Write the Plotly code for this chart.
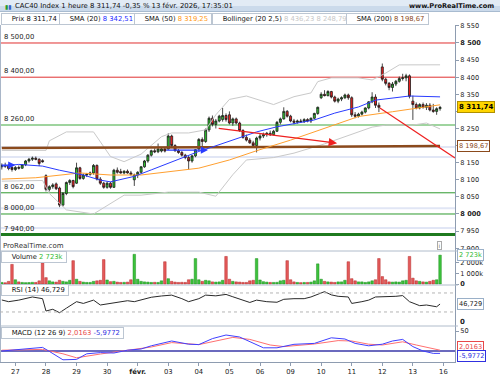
import plotly.graph_objects as go

W, H = 500, 375
FONT = "DejaVu Sans"

# ---------------- data ----------------
day_tick_idx = [4, 13, 22, 31, 40, 49, 58, 67, 76, 85, 94, 103, 112, 121, 130]
day_tick_text = ['27', '28', '29', '30', '<b>févr.</b>', '03', '04', '05', '06', '09', '10', '11', '12', '13', '16']

price_tick_vals = [7900, 7950, 8000, 8050, 8100, 8150, 8200, 8250, 8300, 8350, 8400, 8450, 8500, 8550]
price_tick_text = ['7 900', '7 950', '<b>8 000</b>', '8 050', '8 100', '8 150', '', '8 250', '', '8 350', '8 400', '8 450', '<b>8 500</b>', '8 550']

opens = [8138, 8142, 8140, 8136,
         8130, 8136, 8134, 8144, 8155, 8160, 8163, 8160, 8156,
         8112, 8072, 8080, 8088, 8076, 8026, 8060, 8092, 8098,
         8090, 8135, 8104, 8114, 8116, 8120, 8142, 8102, 8090,
         8078, 8090, 8078, 8128, 8124, 8120, 8125, 8120, 8100,
         8114, 8122, 8138, 8155, 8172, 8185, 8182, 8184, 8190,
         8190, 8228, 8200, 8185, 8180, 8172, 8165, 8155, 8170,
         8190, 8218, 8212, 8246, 8280, 8262, 8272, 8276, 8288,
         8290, 8266, 8278, 8266, 8244, 8224, 8216, 8208, 8200,
         8222, 8228, 8232, 8236, 8232, 8242, 8268, 8278, 8300,
         8286, 8272, 8268, 8272, 8270, 8276, 8272, 8280, 8294,
         8340, 8350, 8346, 8358, 8342, 8330, 8336, 8340, 8348,
         8340, 8290, 8286, 8292, 8298, 8310, 8328, 8342, 8318,
         8430, 8394, 8382, 8370, 8380, 8388, 8396, 8398, 8404,
         8330, 8320, 8310, 8320, 8312, 8318, 8304, 8300, 8308]
highs = [8148, 8150, 8146, 8142,
         8140, 8142, 8146, 8158, 8164, 8168, 8168, 8163, 8160,
         8116, 8084, 8090, 8092, 8080, 8064, 8095, 8102, 8100,
         8150, 8138, 8118, 8120, 8124, 8146, 8145, 8108, 8094,
         8095, 8094, 8132, 8136, 8132, 8128, 8130, 8126, 8118,
         8125, 8140, 8158, 8175, 8188, 8192, 8206, 8195, 8194,
         8236, 8232, 8204, 8190, 8184, 8176, 8170, 8172, 8190,
         8222, 8224, 8250, 8285, 8288, 8278, 8290, 8310, 8294,
         8300, 8282, 8282, 8270, 8248, 8232, 8222, 8214, 8226,
         8234, 8238, 8240, 8244, 8246, 8272, 8282, 8312, 8304,
         8290, 8278, 8276, 8278, 8280, 8280, 8282, 8296, 8314,
         8356, 8362, 8362, 8360, 8346, 8340, 8344, 8352, 8352,
         8344, 8298, 8296, 8302, 8312, 8330, 8356, 8350, 8326,
         8440, 8398, 8386, 8386, 8392, 8402, 8410, 8410, 8408,
         8346, 8326, 8324, 8326, 8324, 8324, 8322, 8312, 8316]
lows = [8130, 8135, 8128, 8124,
        8126, 8130, 8132, 8140, 8150, 8155, 8157, 8140, 8150,
        8066, 8066, 8074, 8070, 8020, 8022, 8055, 8085, 8075,
        8088, 8100, 8100, 8108, 8112, 8115, 8098, 8085, 8074,
        8074, 8074, 8076, 8118, 8118, 8116, 8118, 8112, 8082,
        8105, 8118, 8135, 8150, 8168, 8178, 8178, 8180, 8180,
        8188, 8196, 8182, 8176, 8168, 8160, 8130, 8150, 8166,
        8185, 8196, 8208, 8240, 8256, 8250, 8268, 8270, 8270,
        8262, 8258, 8262, 8240, 8220, 8212, 8205, 8196, 8180,
        8215, 8222, 8226, 8228, 8230, 8240, 8262, 8276, 8282,
        8268, 8262, 8264, 8266, 8266, 8268, 8266, 8276, 8290,
        8336, 8344, 8344, 8338, 8326, 8324, 8330, 8336, 8334,
        8284, 8280, 8282, 8288, 8294, 8306, 8324, 8310, 8298,
        8388, 8376, 8362, 8358, 8374, 8384, 8390, 8388, 8338,
        8275, 8306, 8306, 8308, 8304, 8300, 8296, 8290, 8302]
closes = [8142, 8140, 8133, 8130,
          8136, 8134, 8144, 8155, 8160, 8163, 8160, 8148, 8153,
          8072, 8080, 8085, 8074, 8026, 8060, 8092, 8098, 8080,
          8135, 8104, 8114, 8116, 8120, 8142, 8102, 8090, 8078,
          8090, 8078, 8128, 8122, 8120, 8125, 8120, 8116, 8114,
          8122, 8138, 8155, 8172, 8185, 8182, 8190, 8190, 8184,
          8228, 8200, 8185, 8180, 8172, 8165, 8155, 8170, 8188,
          8218, 8212, 8246, 8280, 8262, 8272, 8286, 8288, 8276,
          8266, 8278, 8266, 8244, 8224, 8216, 8208, 8200, 8222,
          8228, 8232, 8236, 8232, 8242, 8268, 8278, 8300, 8286,
          8272, 8268, 8272, 8270, 8276, 8272, 8280, 8294, 8312,
          8350, 8346, 8358, 8342, 8330, 8336, 8340, 8348, 8340,
          8290, 8286, 8292, 8298, 8310, 8328, 8342, 8318, 8312,
          8394, 8382, 8370, 8380, 8388, 8396, 8398, 8404, 8344,
          8320, 8310, 8320, 8312, 8318, 8304, 8300, 8308, 8311.74]

volume_k = [150, 120, 250, 1850,
            400, 200, 150, 130, 140, 160, 150, 300, 2000,
            600, 300, 200, 180, 350, 250, 200, 350, 2200,
            450, 250, 180, 150, 150, 250, 300, 350, 2300,
            380, 220, 250, 180, 150, 160, 180, 400, 2800,
            450, 250, 200, 180, 150, 160, 150, 300, 2100,
            500, 250, 180, 150, 160, 150, 400, 450, 2400,
            400, 250, 350, 300, 200, 180, 200, 350, 2600,
            450, 250, 200, 180, 150, 150, 300, 350, 2400,
            380, 220, 180, 150, 150, 160, 300, 350, 2200,
            400, 200, 150, 130, 150, 150, 180, 300, 1900,
            450, 250, 200, 180, 150, 200, 200, 350, 2100,
            500, 300, 200, 200, 150, 200, 300, 400, 2400,
            700, 400, 200, 180, 200, 180, 300, 350, 2600,
            550, 300, 250, 200, 180, 250, 350, 400, 2723]

sma20_x = [0, 5, 12, 17, 24, 29, 32, 39, 44, 49, 53, 58, 62, 68, 75, 81, 92, 98, 105, 110, 120, 129]
sma20_v = [8140, 8145, 8140, 8128, 8114, 8099, 8094, 8110, 8129, 8149, 8164, 8183, 8196, 8216, 8240, 8255, 8275, 8295, 8313, 8333, 8345, 8342.51]

sma50_x = [0, 10, 23, 32, 41, 49, 58, 67, 75, 85, 95, 105, 115, 125, 129]
sma50_v = [8102, 8106, 8120, 8114, 8114, 8124, 8134, 8158, 8185, 8216, 8250, 8285, 8299, 8312, 8319.25]

sma200_x = [0, 20, 40, 60, 80, 100, 115, 129]
sma200_v = [8193, 8193, 8194, 8195, 8196, 8197, 8197, 8198.67]

boll_up_x = [0, 13, 14, 19, 27, 32, 36, 41, 47, 50, 55, 60, 63, 67, 72, 80, 86, 91, 93, 97, 105, 109, 113, 117, 129]
boll_up_v = [8186, 8186, 8214, 8240, 8240, 8168, 8153, 8175, 8226, 8237, 8237, 8246, 8290, 8335, 8345, 8320, 8343, 8354, 8387, 8398, 8398, 8392, 8412, 8436, 8436.23]
boll_lo_x = [0, 12, 14, 19, 27, 32, 36, 41, 49, 58, 63, 68, 72, 80, 86, 95, 105, 109, 113, 121, 125, 129]
boll_lo_v = [8096, 8098, 8060, 8012, 8000, 8030, 8055, 8055, 8064, 8064, 8052, 8115, 8158, 8165, 8178, 8205, 8240, 8254, 8260, 8260, 8266, 8248.79]

rsi_x = [0, 2, 5, 9, 12, 13, 15, 17, 19, 22, 24, 27, 29, 32, 34, 37, 39, 41, 44, 47, 50, 53, 55, 58, 60, 63, 66, 68, 71, 73,
         75, 78, 81, 83, 86, 89, 91, 93, 95, 97, 99, 102, 103, 106, 108, 110, 113, 116, 118, 120, 123, 125, 128, 129]
rsi_v = [55.3, 51.7, 55, 61.6, 58, 32, 35.7, 28.5, 38, 51.7, 48, 55, 44.7, 48, 51.7, 53.7, 51.7, 55, 61, 63.7, 65.5, 58, 51.7, 58, 65.5, 64, 67, 62, 55, 50,
         55, 51.7, 50.5, 56.7, 58, 58, 61.6, 68, 72.8, 66, 63, 61.6, 48, 51.7, 55, 61.6, 61.6, 63, 64.5, 51.7, 43.3, 44.7, 41, 46.729]

macd_x = [0, 5, 12, 14, 18, 22, 25, 29, 33, 37, 41, 44, 50, 55, 58, 62, 66, 70, 73, 77, 81, 86, 92, 97, 101, 104, 108, 112, 115, 118, 121, 124, 127, 129]
macd_v = [0, 4, 9, -1, -22, -21, -7, -4, -5, 2, 5, 13, 25, 17, 16, 31, 40, 35, 23, 8, 8, 16.7, 19, 33, 30, 19, 13, 17, 25, 29, 11, 0, -6, -5.9772]
signal_x = [0, 12, 18, 22, 29, 37, 44, 50, 58, 68, 73, 79, 83, 92, 99, 103, 108, 112, 118, 122, 129]
signal_v = [2, 4, -7, -17, -7.5, 2, 10, 21, 16, 34, 29, 15, 11, 17.5, 26, 25, 17, 15, 23, 15, 2.0163]

levels = [8500, 8400, 8260, 8062, 8000, 7940]
level_text = ['8 500,00', '8 400,00', '8 260,00', '8 062,00', '8 000,00', '7 940,00']
level_color = ['#e03030', '#e03030', '#9fd49f', '#2e9a2e', '#2e9a2e', '#1f7a1f']
level_width = [1, 1, 2, 1, 1, 3]
soft_lines = [8196, 8167, 8017, 7959]

# drawings (candle index, price)
red_arrow = dict(x0=63.4, y0=8251, x1=98.7, y1=8207)
red_line = dict(x0=111.3, y0=8310, x1=133.4, y1=8164)
blue_arrows = [dict(x0=-0.5, y0=8143, x1=4.0, y1=8143), dict(x0=48.0, y0=8187, x1=60.7, y1=8187)]

last_price = closes[-1]
vol_last = volume_k[-1] * 1000

# ---------------- figure ----------------
def py(p):
    return 1 - p / H

XR = 455 / W
idx = list(range(len(opens)))
inc = [c >= o for o, c in zip(opens, closes)]

fig = go.Figure()

# Bollinger
fig.add_trace(go.Scatter(x=boll_up_x, y=boll_up_v, mode='lines', line=dict(color='#c9c9c9', width=1), yaxis='y'))
fig.add_trace(go.Scatter(x=boll_lo_x, y=boll_lo_v, mode='lines', line=dict(color='#c9c9c9', width=1), yaxis='y'))
# SMAs
fig.add_trace(go.Scatter(x=sma200_x, y=sma200_v, mode='lines', line=dict(color='#8b4a1c', width=2.5), yaxis='y'))
fig.add_trace(go.Scatter(x=sma50_x, y=sma50_v, mode='lines', line=dict(color='#ffa030', width=1), yaxis='y'))
fig.add_trace(go.Scatter(x=sma20_x, y=sma20_v, mode='lines', line=dict(color='#2a3cff', width=1), yaxis='y'))

fig.add_trace(go.Candlestick(
    x=idx, open=opens, high=highs, low=lows, close=closes, yaxis='y',
    increasing=dict(fillcolor='#2ec52e', line=dict(color='#1a1a1a', width=0.8)),
    decreasing=dict(fillcolor='#ee2020', line=dict(color='#1a1a1a', width=0.8)),
    whiskerwidth=0, hoverinfo='skip'))

# Volume
vcol = ['#3cc23c' if g else '#e45a5a' for g in inc]
vline = ['#1f8f1f' if g else '#b52a2a' for g in inc]
fig.add_trace(go.Bar(x=idx, y=[v * 1000 for v in volume_k], marker=dict(color=vcol, line=dict(color=vline, width=0.5)), yaxis='y2'))

# RSI
fig.add_trace(go.Scatter(x=rsi_x, y=rsi_v, mode='lines', line=dict(color='#2a2a2a', width=1), yaxis='y3'))

# MACD
fig.add_trace(go.Scatter(x=signal_x, y=signal_v, mode='lines', line=dict(color='#ff7070', width=1), yaxis='y4'))
fig.add_trace(go.Scatter(x=macd_x, y=macd_v, mode='lines', line=dict(color='#4040ff', width=1), yaxis='y4'))

axis_line = '#8e9cb0'
tickfont = dict(family=FONT, size=6.6, color='#222')

fig.update_layout(
    width=W, height=H, margin=dict(l=0, r=0, t=0, b=0, autoexpand=False),
    paper_bgcolor='white', plot_bgcolor='white', showlegend=False,
    bargap=0.25, boxgap=0.15,
    font=dict(family=FONT, size=7, color='#222'),
    xaxis=dict(domain=[0, XR], anchor='y4', range=[-0.53, 133.4], rangeslider=dict(visible=False),
               tickvals=day_tick_idx, ticktext=day_tick_text, ticks='outside', ticklen=3, tickcolor=axis_line,
               showgrid=False, zeroline=False, showline=True, linecolor=axis_line, linewidth=1,
               automargin=False, tickfont=dict(family=FONT, size=6.8, color='#222')),
    yaxis=dict(domain=[py(251), py(25)], anchor='x', side='right', range=[7891.8, 8552.6], automargin=False,
               tickvals=price_tick_vals, ticktext=price_tick_text,
               ticks='outside', ticklen=3, tickcolor=axis_line, tickfont=tickfont,
               showgrid=False, zeroline=False, showline=True, linecolor=axis_line),
    yaxis2=dict(domain=[py(285), py(251)], anchor='x', side='right', range=[-94000, 3113000], automargin=False,
                tickvals=[0, 1000000, 2000000], ticktext=['<b>0</b>', '1 000k', '2 000k'],
                ticks='outside', ticklen=3, tickcolor=axis_line, tickfont=tickfont,
                showgrid=False, zeroline=False, showline=True, linecolor=axis_line),
    yaxis3=dict(domain=[py(326), py(285)], anchor='x', side='right', range=[0.5, 86.8], automargin=False,
                showticklabels=False, ticks='', showgrid=False, zeroline=False, showline=True, linecolor=axis_line),
    yaxis4=dict(domain=[py(362), py(326)], anchor='x', side='right', range=[-27.5, 62.5], automargin=False,
                tickvals=[50], ticktext=['50'], ticks='outside', ticklen=3, tickcolor=axis_line, tickfont=tickfont,
                showgrid=False, zeroline=False, showline=True, linecolor=axis_line),
)

shapes = []
# title bar (two-tone to suggest the gradient)
shapes.append(dict(type='rect', xref='paper', yref='paper', x0=0, x1=1, y0=py(6), y1=1, fillcolor='#e2ebf5', line=dict(width=0), layer='below'))
shapes.append(dict(type='rect', xref='paper', yref='paper', x0=0, x1=1, y0=py(11.5), y1=py(6), fillcolor='#cbdaeb', line=dict(width=0), layer='below'))
shapes.append(dict(type='line', xref='paper', yref='paper', x0=0, x1=1, y0=py(11.5), y1=py(11.5), line=dict(color='#a8bbd0', width=1)))
# left border
shapes.append(dict(type='line', xref='paper', yref='paper', x0=0.5 / W, x1=0.5 / W, y0=py(362), y1=py(25), line=dict(color='#a9b6c8', width=1)))
# pane dividers
for yy in [251, 285, 326]:
    shapes.append(dict(type='line', xref='paper', yref='paper', x0=0, x1=458 / W, y0=py(yy), y1=py(yy), line=dict(color='#b0bccb', width=1)))
# soft guide lines
for v in soft_lines:
    shapes.append(dict(type='line', xref='x domain', yref='y', x0=0, x1=1, y0=v, y1=v, line=dict(color='#e1e6f5', width=2), layer='below'))
# horizontal levels
for v, c, w in zip(levels, level_color, level_width):
    shapes.append(dict(type='line', xref='x domain', yref='y', x0=0, x1=1, y0=v, y1=v, line=dict(color=c, width=w), layer='below'))
# RSI 70/30
for v in [70, 30]:
    shapes.append(dict(type='line', xref='x domain', yref='y3', x0=0, x1=1, y0=v, y1=v, line=dict(color='#b4b4b4', width=1, dash='dot')))
# MACD zero
shapes.append(dict(type='line', xref='x domain', yref='y4', x0=0, x1=1, y0=0, y1=0, line=dict(color='#3a38a8', width=1.5), layer='below'))
# red diagonal drawing
shapes.append(dict(type='line', xref='x', yref='y', x0=red_line['x0'], y0=red_line['y0'], x1=red_line['x1'], y1=red_line['y1'], line=dict(color='#ee2020', width=1.2)))
# legend icons
def icon(x0, x1, y0, y1, color):
    shapes.append(dict(type='rect', xref='paper', yref='paper', x0=x0 / W, x1=x1 / W, y0=py(y1), y1=py(y0), fillcolor=color, line=dict(width=0)))

ann = []
def text(t, x, y, size=6.8, color='#222', xanchor='left', yref='paper', yshift=0, bg=None, border=None, pad=1):
    d = dict(x=x / W, y=(py(y) if yref == 'paper' else y), xref='paper', yref=yref, text=t, showarrow=False,
             xanchor=xanchor, yanchor='middle', yshift=yshift, font=dict(family=FONT, size=size, color=color))
    if bg:
        d['bgcolor'] = bg
    if border:
        d['bordercolor'] = border
        d['borderwidth'] = 1
        d['borderpad'] = pad
    ann.append(d)

# header
text('CAC40 Index 1 heure 8 311,74 -0,35 % 13 févr. 2026, 17:35:01', 13, 6, size=6.9, color='#111')
text('<b>www.ProRealTime.com</b>', 496, 6, size=6.6, color='#111', xanchor='right')
ann.append(dict(x=3 / W, y=py(6), xref='paper', yref='paper', text='<span style="color:#2a9a2a">▮</span><span style="color:#3a60c8">▮</span>',
                showarrow=False, xanchor='left', yanchor='middle', font=dict(family=FONT, size=6)))

# legend row
legend_items = [
    (1, 'Prix 8 311,74', None),
    (59, 'SMA (20) <span style="color:#1e2cff">8 342,51</span>', '#1e2cff'),
    (134, 'SMA (50) <span style="color:#ff9a20">8 319,25</span>', '#ff9a20'),
    (212, 'Bollinger (20 2,5) <span style="color:#c8c8c8">8 436,23 8 248,79</span>', '#cfcfcf'),
    (346, 'SMA (200) <span style="color:#8b4a1c">8 198,67</span>', '#8b4a1c'),
]
for x, t, c in legend_items:
    text('    ' + t + ' ', x, 18.5, size=6.8, color='#111', bg='white', border='#bcc6d2', pad=1)
    if c is None:
        icon(x + 2, x + 5, 15, 22, '#d62020')
        icon(x + 5, x + 8, 15, 22, '#22a022')
    else:
        icon(x + 2, x + 8.5, 15, 22, c)

# level labels
for v, t in zip(levels, level_text):
    ann.append(dict(x=2 / W, y=v, xref='paper', yref='y', text=t, showarrow=False, xanchor='left', yanchor='bottom',
                    yshift=0, font=dict(family=FONT, size=6.8, color='#222')))

# watermark & info icon
text('ProRealTime.com', 1, 246, size=7, color='#333')
text('i', 439, 245, size=5.5, color='#666', xanchor='center', border='#aaaaaa', pad=0.5, bg='white')

# pane legends
text('    Volume <span style="color:#33bb33">2 723k</span> ', 1, 257, size=6.8, color='#111', bg='white', border='#bcc6d2')
icon(3, 5.5, 253.5, 260.5, '#33bb33')
icon(5.5, 8, 253.5, 260.5, '#e05050')
text('    RSI (14) 46,729 ', 1, 290, size=6.8, color='#111', bg='white', border='#bcc6d2')
icon(3, 9, 287, 293.5, '#111111')
text('    MACD (12 26 9) <span style="color:#e84848">2,0163</span> <span style="color:#3030e0">-5,9772</span> ', 1, 332.5, size=6.8, color='#111', bg='white', border='#bcc6d2')
icon(3, 5.5, 329, 336, '#e04040')
icon(5.5, 8, 329, 336, '#3030e0')

# right value boxes
text('<b>8 311,74</b>', 457, last_price, yref='y', size=7.0, color='#000', bg='#ffd500', border='#b09000')
text('8 198,67', 457, sma200_v[-1], yref='y', size=6.6, color='#8b4a1c', bg='white', border='#8b4a1c')
text('2 723k', 457, vol_last, yref='y2', size=6.6, color='#33bb33', bg='white', border='#9ab0c8')
text('46,729', 457, rsi_v[-1], yref='y3', size=6.6, color='#222', bg='white', border='#9ab0c8')
text('2,0163', 457, signal_v[-1], yref='y4', yshift=3, size=6.6, color='#e84848', bg='white', border='#e84848')
text('-5,9772', 457, macd_v[-1], yref='y4', yshift=-3, size=6.6, color='#3030e0', bg='white', border='#3030e0')
text('<b>0</b>', 458, 322, size=7, color='#222')

# arrows (drawings)
ann.append(dict(x=red_arrow['x1'], y=red_arrow['y1'], ax=red_arrow['x0'], ay=red_arrow['y0'], xref='x', yref='y', axref='x', ayref='y',
                text='', showarrow=True, arrowhead=2, arrowsize=1.3, arrowwidth=1.3, arrowcolor='#ee2020'))
for b in blue_arrows:
    ann.append(dict(x=b['x1'], y=b['y1'], ax=b['x0'], ay=b['y0'], xref='x', yref='y', axref='x', ayref='y',
                    text='', showarrow=True, arrowhead=2, arrowsize=1.2, arrowwidth=1.2, arrowcolor='#2a3cff'))

fig.update_layout(shapes=shapes, annotations=ann)
fig.write_html("out.html", config={'displayModeBar': False},
               post_script="document.body.style.margin='0';document.body.style.padding='0';")
